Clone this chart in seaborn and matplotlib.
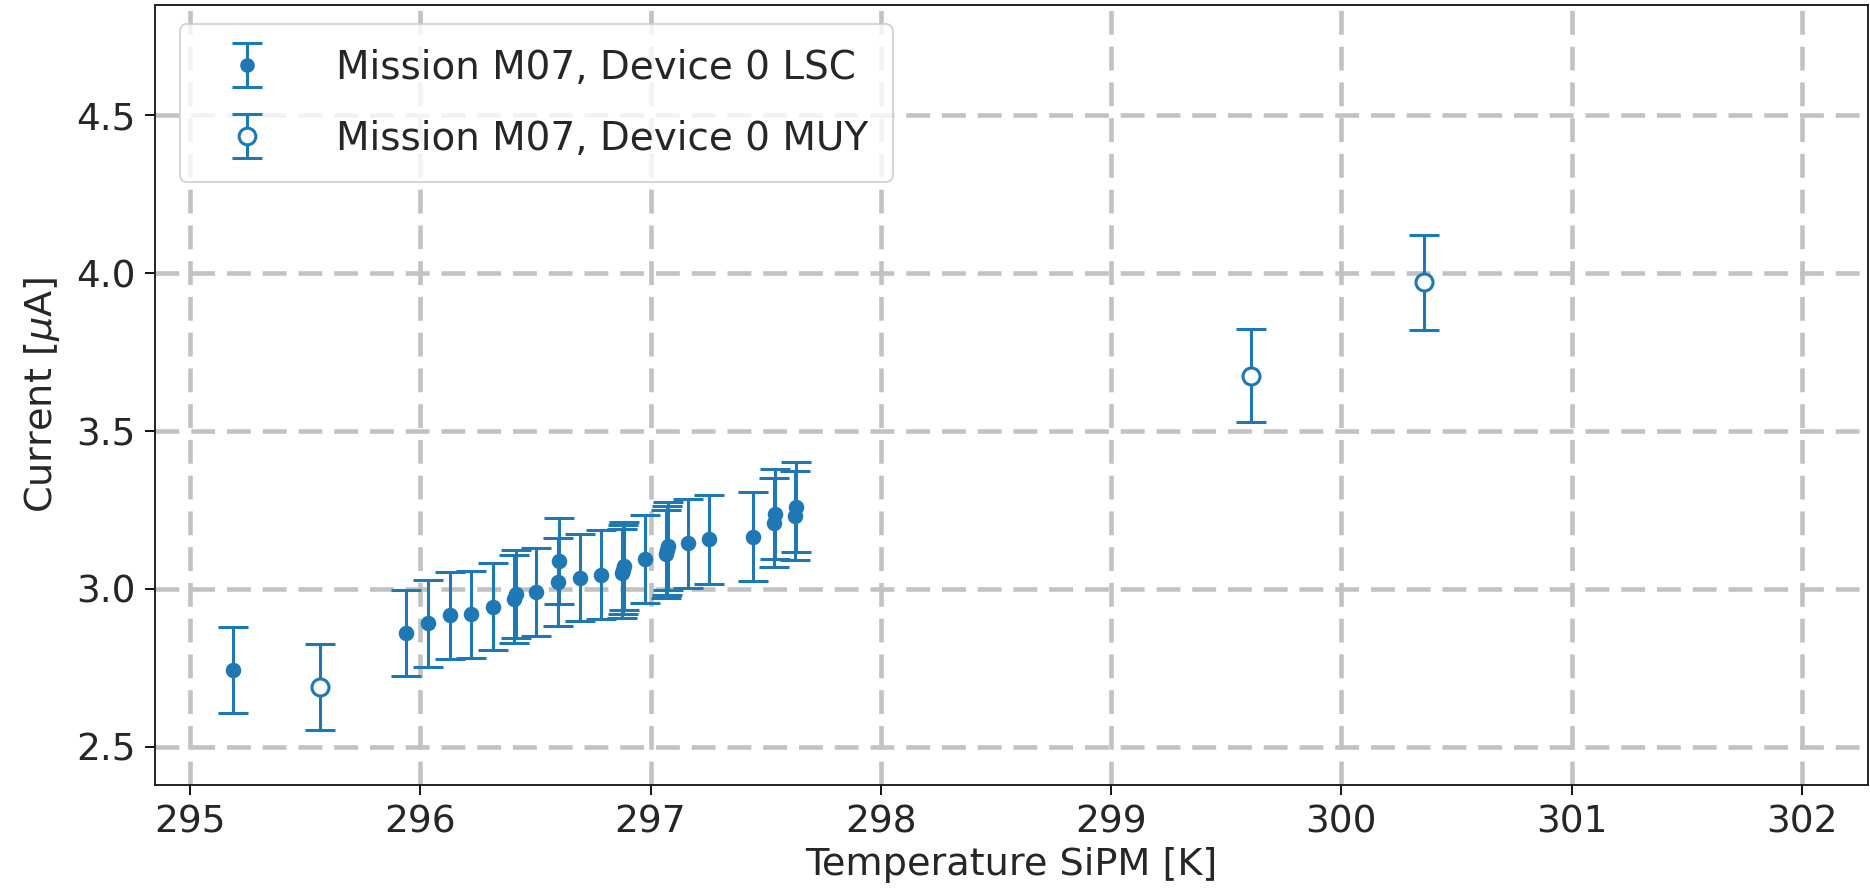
import matplotlib
matplotlib.use("Agg")
import matplotlib.pyplot as plt
import seaborn as sns
import pandas as pd
from matplotlib.container import ErrorbarContainer
from matplotlib.legend_handler import HandlerTuple, HandlerErrorbar

# Mission M07, Device 0 - LSC readings
lsc_temp = [295.185, 295.938, 296.035, 296.129, 296.220, 296.317, 296.405, 296.415,
            296.502, 296.599, 296.601, 296.693, 296.786, 296.878, 296.882, 296.886,
            296.976, 297.066, 297.070, 297.074, 297.164, 297.255, 297.443, 297.535,
            297.539, 297.629, 297.633]
lsc_current = [2.742, 2.861, 2.891, 2.917, 2.919, 2.944, 2.967, 2.984,
               2.991, 3.021, 3.089, 3.036, 3.045, 3.049, 3.061, 3.072,
               3.094, 3.110, 3.122, 3.135, 3.144, 3.157, 3.165, 3.210,
               3.237, 3.232, 3.260]
lsc_err = [0.136, 0.137, 0.137, 0.138, 0.138, 0.138, 0.139, 0.138,
           0.139, 0.139, 0.137, 0.139, 0.140, 0.140, 0.140, 0.140,
           0.140, 0.140, 0.140, 0.140, 0.141, 0.141, 0.141, 0.141,
           0.142, 0.142, 0.142]

# Mission M07, Device 0 - MUY readings
muy_temp = [295.563, 299.607, 300.360]
muy_current = [2.689, 3.675, 3.971]
muy_err = [0.135, 0.147, 0.150]

labels = ["Mission M07, Device 0 LSC", "Mission M07, Device 0 MUY"]
x_ticks = [295, 296, 297, 298, 299, 300, 301, 302]
y_ticks = [2.5, 3.0, 3.5, 4.0, 4.5]

lsc = pd.DataFrame({"T": lsc_temp, "I": lsc_current, "err": lsc_err})
muy = pd.DataFrame({"T": muy_temp, "I": muy_current, "err": muy_err})

sns.set_style("ticks")
plt.rcParams["font.family"] = ["DejaVu Sans"]
plt.rcParams["mathtext.fontset"] = "dejavusans"

blue = "#1f77b4"

fig = plt.figure(figsize=(18.70, 8.94), dpi=100)
ax = fig.add_axes([155 / 1870, 109 / 894, 1713 / 1870, 780 / 894])

eb_kw = dict(fmt="none", ecolor=blue, elinewidth=2.2, capsize=10.5, capthick=2.2, zorder=2)
eb_lsc = ax.errorbar(lsc["T"], lsc["I"], yerr=lsc["err"], **eb_kw)
eb_muy = ax.errorbar(muy["T"], muy["I"], yerr=muy["err"], **eb_kw)

sns.scatterplot(data=lsc, x="T", y="I", ax=ax, color=blue, s=125, linewidth=0,
                marker="o", legend=False, zorder=3)
sns.scatterplot(data=muy, x="T", y="I", ax=ax, facecolor="white", edgecolor=blue,
                s=150, linewidth=2.2, marker="o", legend=False, zorder=3)

ax.set_xlim(294.848, 302.287)
ax.set_ylim(2.379, 4.849)
ax.set_xticks(x_ticks)
ax.set_yticks(y_ticks)
ax.tick_params(axis="both", labelsize=27, length=7, width=1.3, color="black", pad=7)

ax.set_axisbelow(True)
ax.grid(True, which="major", color="#c2c2c2", linestyle=(0, (5.2, 2.6)), linewidth=3.3)
for s in ax.spines.values():
    s.set_visible(True)
    s.set_color("#222222")
    s.set_linewidth(1.4)

ax.set_xlabel("Temperature SiPM [K]", fontsize=27.5, labelpad=5)
ax.set_ylabel("Current [$\\mu$A]", fontsize=27.5, labelpad=10)

# legend handles: error bar with its marker drawn on top
h_lsc = plt.Line2D([], [], linestyle="none", marker="o", markersize=10.5,
                   markerfacecolor=blue, markeredgewidth=0, color=blue)
h_muy = plt.Line2D([], [], linestyle="none", marker="o", markersize=12,
                   markerfacecolor="white", markeredgecolor=blue, markeredgewidth=2.2)
leg = ax.legend([(eb_lsc, h_lsc), (eb_muy, h_muy)], labels,
                handler_map={tuple: HandlerTuple(ndivide=1, pad=0),
                             ErrorbarContainer: HandlerErrorbar(xerr_size=0.5, yerr_size=0.56)},
                loc="upper left", fontsize=28, handlelength=2.23, handletextpad=1.18,
                labelspacing=0.85, borderpad=0.62, frameon=True, fancybox=True,
                framealpha=0.8, edgecolor="#cccccc", bbox_to_anchor=(0.003, 1.0))
leg.get_frame().set_linewidth(1.5)

fig.savefig("out.png", dpi=100)
